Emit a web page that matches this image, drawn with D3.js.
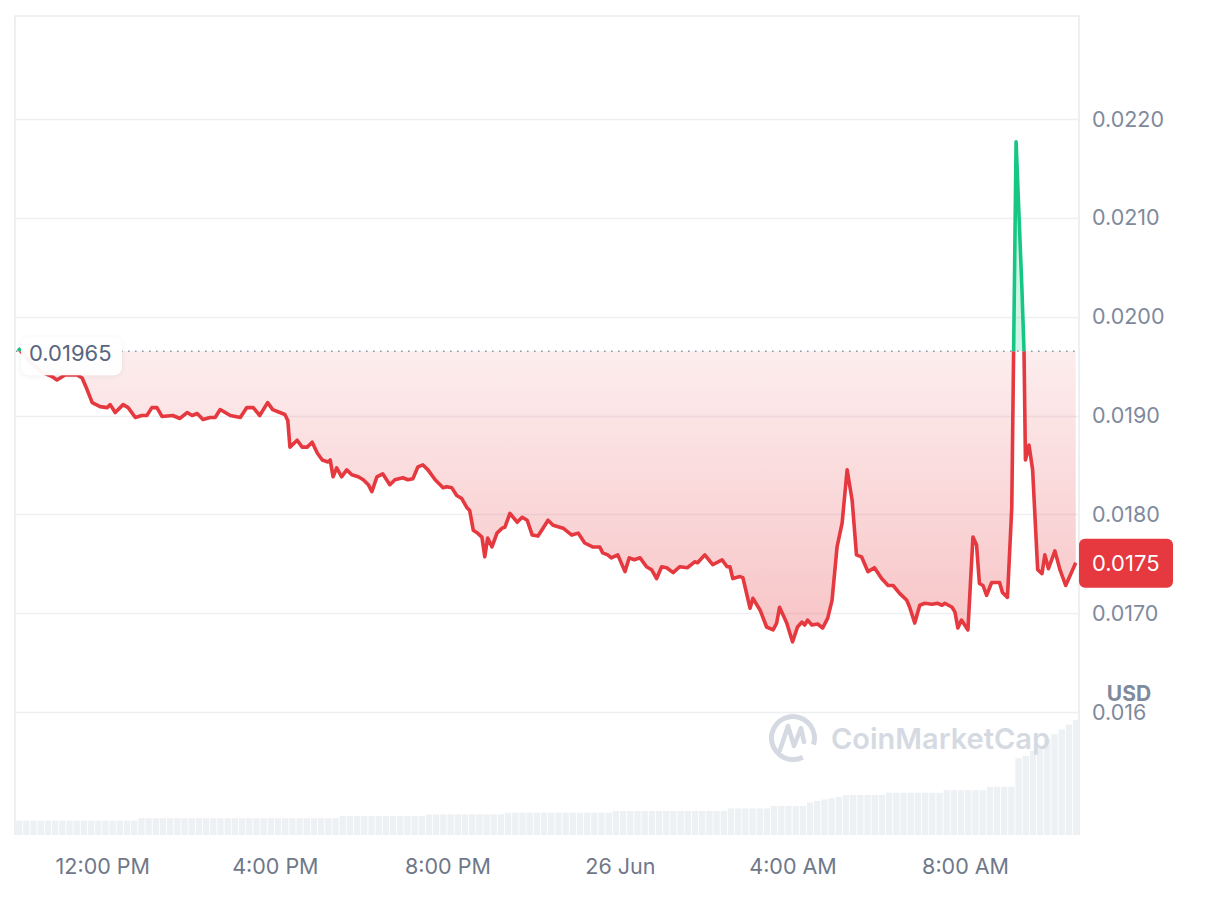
<!DOCTYPE html>
<html>
<head>
<meta charset="utf-8">
<script src="https://cdn.jsdelivr.net/npm/d3@7"></script>
<style>
  body { margin: 0; background: #fff; }
  svg { display: block; font-family: Inter, "Noto Sans", sans-serif; }
</style>
</head>
<body>
<svg width="1220" height="915"></svg>
<script>
// 24h price (minutes after 25 Jun 10:00)
var startTime = "2024-06-25T10:00:00";
var endTime = "2024-06-26T10:38:30";
var openPrice = 0.01965;
var lastPrice = 0.0175;

var minutes = [
  3, 20, 36, 51, 57, 68, 85, 92, 99, 106,
  117, 127, 131, 138, 149, 156, 166, 175, 182, 189,
  196, 203, 218, 228, 238, 245, 252, 260, 270, 277,
  284, 298, 312, 321, 330, 339, 350, 357, 367, 374,
  378, 381, 391, 398, 405, 412, 419, 426, 434, 437,
  441, 446, 453, 460, 467, 476, 483, 490, 495, 502,
  510, 520, 527, 538, 545, 552, 559, 566, 573, 583,
  594, 599, 606, 613, 620, 627, 631, 636, 642, 648,
  652, 656, 662, 669, 676, 680, 687, 697, 704, 711,
  718, 726, 733, 740, 747, 761, 773, 782, 791, 802,
  812, 816, 823, 828, 837, 847, 853, 860, 868, 877,
  884, 891, 898, 905, 914, 923, 934, 944, 948, 958,
  969, 982, 989, 993, 997, 1007, 1011, 1021, 1025, 1035,
  1044, 1053, 1058, 1062, 1072, 1080, 1087, 1093, 1097, 1101,
  1107, 1115, 1122, 1129, 1135, 1142, 1149, 1156, 1163, 1169,
  1176, 1185, 1194, 1204, 1213, 1220, 1229, 1239, 1243, 1250,
  1257, 1264, 1274, 1282, 1288, 1292, 1302, 1306, 1310, 1315,
  1324, 1331, 1336, 1340, 1345, 1350, 1357, 1368, 1372, 1379,
  1385, 1391, 1399, 1402, 1404, 1409, 1414, 1421, 1427, 1431,
  1436, 1445, 1452, 1460, 1474
];

var prices = [
  0.01968, 0.01954, 0.01944, 0.01939, 0.01936, 0.01941, 0.01941, 0.01938, 0.01926, 0.01913,
  0.01909, 0.01908, 0.01911, 0.01903, 0.01911, 0.01908, 0.01898, 0.01900, 0.01900, 0.01908,
  0.01908, 0.01899, 0.01900, 0.01897, 0.01903, 0.01900, 0.01902, 0.01896, 0.01898, 0.01898,
  0.01906, 0.01900, 0.01898, 0.01908, 0.01908, 0.01900, 0.01913, 0.01906, 0.01903, 0.01901,
  0.01895, 0.01868, 0.01875, 0.01868, 0.01868, 0.01873, 0.01862, 0.01855, 0.01853, 0.01855,
  0.01838, 0.01847, 0.01838, 0.01845, 0.01840, 0.01838, 0.01835, 0.01830, 0.01823, 0.01838,
  0.01841, 0.01830, 0.01835, 0.01837, 0.01835, 0.01836, 0.01848, 0.01850, 0.01845, 0.01835,
  0.01827, 0.01828, 0.01827, 0.01819, 0.01816, 0.01807, 0.01804, 0.01784, 0.01781, 0.01777,
  0.01757, 0.01776, 0.01767, 0.01781, 0.01786, 0.01787, 0.01801, 0.01792, 0.01797, 0.01794,
  0.01779, 0.01778, 0.01786, 0.01794, 0.01789, 0.01786, 0.01779, 0.01781, 0.01771, 0.01767,
  0.01767, 0.01761, 0.01759, 0.01756, 0.01759, 0.01742, 0.01756, 0.01754, 0.01756, 0.01747,
  0.01744, 0.01735, 0.01747, 0.01746, 0.01741, 0.01747, 0.01746, 0.01752, 0.01751, 0.01759,
  0.01749, 0.01754, 0.01747, 0.01747, 0.01735, 0.01737, 0.01736, 0.01705, 0.01715, 0.01703,
  0.01686, 0.01683, 0.01690, 0.01706, 0.01690, 0.01671, 0.01686, 0.01691, 0.01688, 0.01693,
  0.01688, 0.01689, 0.01685, 0.01695, 0.01713, 0.01767, 0.01791, 0.01845, 0.01814, 0.01759,
  0.01757, 0.01742, 0.01746, 0.01735, 0.01728, 0.01728, 0.01720, 0.01713, 0.01706, 0.01690,
  0.01708, 0.01710, 0.01709, 0.01710, 0.01708, 0.01710, 0.01706, 0.01701, 0.01685, 0.01693,
  0.01683, 0.01777, 0.01769, 0.01730, 0.01728, 0.01718, 0.01731, 0.01731, 0.01721, 0.01716,
  0.01807, 0.02177, 0.02030, 0.01966, 0.01855, 0.01870, 0.01845, 0.01744, 0.01740, 0.01759,
  0.01745, 0.01763, 0.01744, 0.01728, 0.01751
];

// volume, one bar per 10 minutes (arbitrary units)
var volStep = 10;
var volumes = [
  6.0, 6.0, 6.0, 6.0, 6.0, 6.0, 6.0, 6.0, 6.0, 6.0, 6.0, 6.0, 6.0, 6.0, 6.0, 6.0, 6.0,
  7.0, 7.0, 7.0, 7.0, 7.0, 7.0, 7.0, 7.0, 7.0, 7.0, 7.0, 7.0, 7.0, 7.0,
  7.0, 7.0, 7.0, 7.0, 7.0, 7.0, 7.0, 7.0, 7.0, 7.0, 7.0, 7.0, 7.0, 7.0,
  7.9, 7.9, 7.9, 7.9, 7.9, 7.9, 7.9, 7.9, 7.9, 7.9, 7.9, 7.9,
  8.6, 8.6, 8.6, 8.6, 8.6, 8.6, 8.6, 8.6, 8.6, 8.6, 8.6,
  9.3, 9.3, 9.3, 9.3, 9.3, 9.3, 9.3, 9.3, 9.3, 9.3, 9.3, 9.3, 9.3, 9.3, 9.3,
  10.0, 10.0, 10.0, 10.0, 10.0, 10.0, 10.0, 10.0, 10.0, 10.0, 10.0, 10.0, 10.0, 10.0, 10.0, 10.0,
  11.1, 11.1, 11.1, 11.1, 11.1, 11.1,
  12.1, 12.1, 12.1, 12.1, 12.1,
  13.5, 14.2, 14.8, 15.3, 15.8,
  16.7, 16.7, 16.7, 16.7, 16.7, 16.7,
  17.6, 17.6, 17.6, 17.6, 17.6, 17.6, 17.6, 17.6,
  18.7, 18.7, 18.7, 18.7, 18.7, 18.7,
  20.1, 20.1, 20.1, 20.1,
  32, 33, 35, 37, 40, 42, 44, 46, 48
];

var yTicks = [0.016, 0.017, 0.018, 0.019, 0.020, 0.021, 0.022];
var yTickLabels = ["0.016", "0.0170", "0.0180", "0.0190", "0.0200", "0.0210", "0.0220"];
var xTicks = ["2024-06-25T12:00:00", "2024-06-25T16:00:00", "2024-06-25T20:00:00",
              "2024-06-26T00:00:00", "2024-06-26T04:00:00", "2024-06-26T08:00:00"];
var xTickLabels = ["12:00 PM", "4:00 PM", "8:00 PM", "26 Jun", "4:00 AM", "8:00 AM"];

var RED = "#e5383f", GREEN = "#16c784", GRID = "#edf0f3";

var svg = d3.select("svg"),
    width = +svg.attr("width"),
    height = +svg.attr("height");

// note: "top" is taken by window.top, so plotTop
var plotLeft = 16, plotRight = 1079, plotTop = 16, plotBottom = 835;

var t0 = new Date(startTime), t1 = new Date(endTime);
var x = d3.scaleTime().domain([t0, t1]).range([plotLeft, plotRight]);
var y = d3.scaleLinear().domain([0.016, 0.022]).range([712, 119]);
var yVol = d3.scaleLinear().domain([0, 60]).range([plotBottom, 691]);

var data = minutes.map(function(m, i) {
    return {t: d3.timeMinute.offset(t0, m), p: prices[i]};
});
var yBase = y(openPrice);

svg.append("rect").attr("width", width).attr("height", height).attr("fill", "#fff");

var defs = svg.append("defs");
defs.append("clipPath").attr("id", "above")
    .append("rect")
    .attr("x", 0).attr("y", 0).attr("width", width).attr("height", yBase);
defs.append("clipPath").attr("id", "below")
    .append("rect")
    .attr("x", 0).attr("y", yBase).attr("width", width).attr("height", height - yBase);

var grad = defs.append("linearGradient")
    .attr("id", "redFill")
    .attr("gradientUnits", "userSpaceOnUse")
    .attr("x1", 0).attr("x2", 0)
    .attr("y1", yBase).attr("y2", y(0.0167));
grad.append("stop").attr("offset", 0).attr("stop-color", RED).attr("stop-opacity", 0.09);
grad.append("stop").attr("offset", 1).attr("stop-color", RED).attr("stop-opacity", 0.3);

// frame + grid
svg.append("path")
    .attr("d", "M" + (plotLeft - 1) + "," + plotBottom + "V" + plotTop + "H" + plotRight + "V" + plotBottom)
    .attr("fill", "none").attr("stroke", "#e8ebef").attr("stroke-width", 1.5);

svg.append("g").selectAll("line")
    .data(yTicks)
    .enter().append("line")
    .attr("x1", plotLeft).attr("x2", plotRight)
    .attr("y1", function(d) { return Math.round(y(d)) + 0.5; })
    .attr("y2", function(d) { return Math.round(y(d)) + 0.5; })
    .attr("stroke", GRID).attr("stroke-width", 1.5);

// volume bars
svg.append("g").selectAll("rect")
    .data(volumes)
    .enter().append("rect")
    .attr("x", function(d, i) { return x(d3.timeMinute.offset(t0, i * volStep)); })
    .attr("width", function(d, i) {
        return x(d3.timeMinute.offset(t0, (i + 1) * volStep)) - x(d3.timeMinute.offset(t0, i * volStep)) - 0.8;
    })
    .attr("y", function(d) { return yVol(d); })
    .attr("height", function(d) { return plotBottom - yVol(d); })
    .attr("fill", "#eef1f4");

// watermark
var wm = svg.append("g").attr("fill", "none").attr("stroke", "#d5dae2");
var arc = d3.arc().innerRadius(19).outerRadius(24).startAngle(0.85 * Math.PI).endAngle(2.6 * Math.PI);
wm.append("path").attr("d", arc).attr("transform", "translate(793,738)")
    .attr("fill", "#d5dae2").attr("stroke", "none");
wm.append("path")
    .attr("d", "M780,750 L788,726 L794,746 L801,728 L804,742")
    .attr("stroke-width", 4.5).attr("stroke-linejoin", "round").attr("stroke-linecap", "round");
svg.append("text")
    .attr("x", 831).attr("y", 749)
    .attr("font-size", 29).attr("font-weight", 600)
    .attr("fill", "#d5dae2")
    .text("CoinMarketCap");

// price areas
var area = d3.area()
    .x(function(d) { return x(d.t); })
    .y0(yBase)
    .y1(function(d) { return y(d.p); });
var line = d3.line()
    .x(function(d) { return x(d.t); })
    .y(function(d) { return y(d.p); });

svg.append("path").datum(data)
    .attr("d", area).attr("clip-path", "url(#below)")
    .attr("fill", "url(#redFill)");
svg.append("path").datum(data)
    .attr("d", area).attr("clip-path", "url(#above)")
    .attr("fill", GREEN).attr("fill-opacity", 0.2);

// dotted open price line
svg.append("line")
    .attr("x1", plotLeft).attr("x2", plotRight)
    .attr("y1", yBase).attr("y2", yBase)
    .attr("stroke", "#8f98a8").attr("stroke-width", 1.6)
    .attr("stroke-dasharray", "1.6,5.4");

svg.append("path").datum(data)
    .attr("d", line).attr("clip-path", "url(#below)")
    .attr("fill", "none").attr("stroke", RED).attr("stroke-width", 3.6)
    .attr("stroke-linejoin", "round");
svg.append("path").datum(data)
    .attr("d", line).attr("clip-path", "url(#above)")
    .attr("fill", "none").attr("stroke", GREEN).attr("stroke-width", 3.6)
    .attr("stroke-linejoin", "round");

// open price badge
defs.append("filter").attr("id", "shadow")
    .attr("x", "-20%").attr("y", "-30%").attr("width", "140%").attr("height", "160%")
    .append("feDropShadow")
    .attr("dx", 0).attr("dy", 1).attr("stdDeviation", 2)
    .attr("flood-color", "#58667e").attr("flood-opacity", 0.12);
svg.append("rect")
    .attr("x", 21).attr("y", yBase - 14).attr("width", 101).attr("height", 38).attr("rx", 8)
    .attr("fill", "#fff").attr("fill-opacity", 0.95).attr("filter", "url(#shadow)");
svg.append("text")
    .attr("x", 29).attr("y", yBase + 2).attr("dy", "0.35em")
    .attr("font-size", 22).attr("fill", "#58667e")
    .text(d3.format(".5f")(openPrice));

// y axis labels
svg.append("g").selectAll("text")
    .data(yTicks)
    .enter().append("text")
    .attr("x", 1092)
    .attr("y", function(d) { return y(d); })
    .attr("dy", "0.35em")
    .attr("font-size", 21.5).attr("fill", "#808a9d")
    .text(function(d, i) { return yTickLabels[i]; });

svg.append("text")
    .attr("x", 1129).attr("y", 694).attr("dy", "0.35em")
    .attr("text-anchor", "middle")
    .attr("font-size", 21).attr("font-weight", 700).attr("fill", "#808a9d")
    .text("USD");

// last price badge
svg.append("rect")
    .attr("x", 1079).attr("y", y(lastPrice) - 25).attr("width", 94).attr("height", 49).attr("rx", 6)
    .attr("fill", RED);
svg.append("text")
    .attr("x", 1092).attr("y", y(lastPrice)).attr("dy", "0.35em")
    .attr("font-size", 22).attr("fill", "#fff")
    .text(d3.format(".4f")(lastPrice));

// x axis
var xAxis = d3.axisBottom(x)
    .tickValues(xTicks.map(function(s) { return new Date(s); }))
    .tickSize(0)
    .tickPadding(0)
    .tickFormat(function(d, i) { return xTickLabels[i]; });
var gx = svg.append("g")
    .attr("transform", "translate(0,866)")
    .call(xAxis);
gx.select(".domain").remove();
gx.selectAll("text")
    .attr("dy", "0.35em")
    .attr("font-family", "Inter, sans-serif")
    .attr("font-size", 21.5).attr("fill", "#6f7889");
</script>
</body>
</html>
